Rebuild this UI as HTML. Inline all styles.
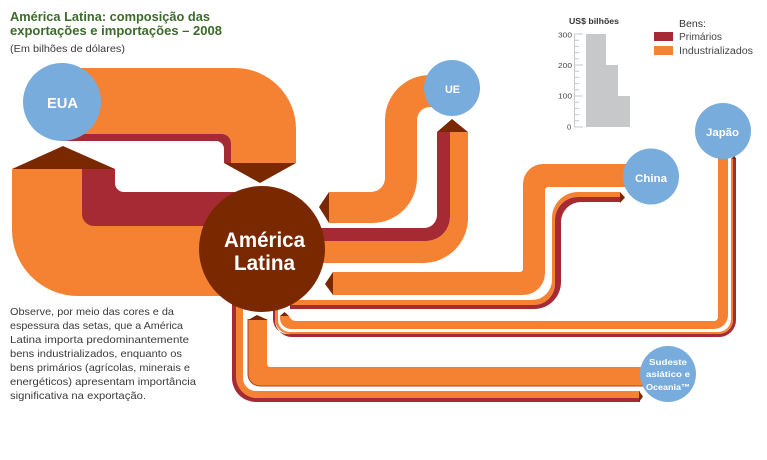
<!DOCTYPE html>
<html><head><meta charset="utf-8"><style>
html,body{margin:0;padding:0;background:#fff}
svg{display:block}
text{font-family:"Liberation Sans",sans-serif}
.t{font-weight:bold;font-size:12.5px;fill:#3c6b2a}
.p{font-size:10.5px;fill:#3a3a3a}
.w{font-weight:bold;fill:#fff;text-anchor:start}
.c{font-size:7.5px;fill:#444}
</style></head><body>
<svg width="767" height="460" viewBox="0 0 767 460" xmlns="http://www.w3.org/2000/svg">
<rect width="767" height="460" fill="#fff"/>
<text class="t" x="10" y="21" textLength="200" lengthAdjust="spacingAndGlyphs">América Latina: composição das</text>
<text class="t" x="10" y="35" textLength="212" lengthAdjust="spacingAndGlyphs">exportações e importações – 2008</text>
<text class="p" x="10" y="52" textLength="115" lengthAdjust="spacingAndGlyphs">(Em bilhões de dólares)</text>

<!-- EUA to AL -->
<path d="M62 134H222A9 9 0 0 1 231 143V163H224V149A8 8 0 0 0 216 141H62Z" fill="#a52a33"/>
<path d="M62 68H235A61 61 0 0 1 296 129V163H231V143A9 9 0 0 0 222 134H62Z" fill="#f58233"/>
<path d="M224 163H296L260 183Z" fill="#7a2800"/>

<!-- AL to EUA -->
<path d="M12 169H90V215H262V296H78A66 66 0 0 1 12 230Z" fill="#f58233"/>
<path d="M82 169H115V183A9 9 0 0 0 124 192H262V226H94A12 12 0 0 1 82 214Z" fill="#a52a33"/>
<path d="M12 169H115L63 146Z" fill="#7a2800"/>

<!-- UE -->
<path d="M430 75A45 45 0 0 0 385 120V178A14 14 0 0 1 371 192H329V223H372A45 45 0 0 0 417 178V120A13 13 0 0 1 430 107H445V75Z" fill="#f58233"/>
<path d="M329 192L319 207L329 223Z" fill="#7a2800"/>
<path d="M437 132V215A13 13 0 0 1 424 228H300V241H426A24 24 0 0 0 450 217V132Z" fill="#a52a33"/>
<path d="M450 132H468V218A45 45 0 0 1 423 263H300V241H426A24 24 0 0 0 450 217Z" fill="#f58233"/>
<path d="M437 132H468L452 119Z" fill="#7a2800"/>

<!-- China -->
<path d="M640 164H543A20 20 0 0 0 523 184V269A3 3 0 0 1 520 272H333V295H523A22 22 0 0 0 545 273V190A3 3 0 0 1 548 187H640Z" fill="#f58233"/>
<path d="M333 272L325 284L333 295Z" fill="#7a2800"/>
<path d="M620 192H578A26 26 0 0 0 552 218V280A20 20 0 0 1 532 300H290V305H534A21 21 0 0 0 555 284V220A23 23 0 0 1 578 197H620Z" fill="#f58233"/>
<path d="M620 197H578A23 23 0 0 0 555 220V284A21 21 0 0 1 534 305H290V309H534A27 27 0 0 0 561 282V222A20 20 0 0 1 581 202H620Z" fill="#a52a33"/>
<path d="M620 192L625 197.500L620 203Z" fill="#7a2800"/>

<!-- Japao -->
<path d="M718 150V317A4 4 0 0 1 714 321H296A7 7 0 0 1 289 314V316H280V318A11 11 0 0 0 291 329H714A14 14 0 0 0 728 315V150Z" fill="#f58233"/>
<path d="M280 316H289L284.500 312Z" fill="#7a2800"/>
<path d="M278 305V320A12 12 0 0 0 290 332H718A13 13 0 0 0 731 319V158H733V320A14 14 0 0 1 719 334H290A15 15 0 0 1 275 319V305Z" fill="#f58233"/>
<path d="M275 305V320A17 17 0 0 0 292 337H719A17 17 0 0 0 736 320V158H733V320A14 14 0 0 1 719 334H290A15 15 0 0 1 273 319V305Z" fill="#a52a33"/>
<path d="M732 159H736L734 154Z" fill="#7a2800"/>

<!-- Sudeste -->
<path d="M248 319V374A12 12 0 0 0 260 386H650V367H270A3 3 0 0 1 267 364V319Z" fill="#f58233"/>
<path d="M248 319V374A12 12 0 0 0 260 386H650" fill="none" stroke="#a8402f" stroke-width="1"/>
<path d="M248 320H268L257 315Z" fill="#7a2800"/>
<path d="M232 300H237V378A20 20 0 0 0 257 398H640V402H256A24 24 0 0 1 232 378Z" fill="#a52a33"/>
<path d="M236 300H243V378A13 13 0 0 0 256 391H640V398H257A21 21 0 0 1 236 377Z" fill="#f58233"/>
<path d="M639 391L643 396.500L639 402Z" fill="#7a2800"/>

<!-- Circles -->
<circle cx="62" cy="102" r="39" fill="#78acdc"/>
<circle cx="262" cy="249" r="63" fill="#7a2800"/>
<circle cx="452" cy="88" r="28" fill="#78acdc"/>
<circle cx="651" cy="176.500" r="28" fill="#78acdc"/>
<circle cx="723" cy="131" r="28" fill="#78acdc"/>
<circle cx="668" cy="374" r="28" fill="#78acdc"/>

<text class="w" x="47" y="108" font-size="15" textLength="31" lengthAdjust="spacingAndGlyphs">EUA</text>
<text class="w" x="224" y="247" font-size="21" textLength="81" lengthAdjust="spacingAndGlyphs">América</text>
<text class="w" x="234" y="270" font-size="21" textLength="61" lengthAdjust="spacingAndGlyphs">Latina</text>
<text class="w" x="445" y="93" font-size="11" textLength="15" lengthAdjust="spacingAndGlyphs">UE</text>
<text class="w" x="635" y="182" font-size="11" textLength="32" lengthAdjust="spacingAndGlyphs">China</text>
<text class="w" x="706" y="136" font-size="11" textLength="33" lengthAdjust="spacingAndGlyphs">Japão</text>
<text class="w" x="649" y="365" font-size="8.500" textLength="38" lengthAdjust="spacingAndGlyphs">Sudeste</text>
<text class="w" x="646" y="377" font-size="8.500" textLength="44" lengthAdjust="spacingAndGlyphs">asiático e</text>
<text class="w" x="646" y="390" font-size="8.500" textLength="44" lengthAdjust="spacingAndGlyphs">Oceania™</text>

<!-- Paragraph -->
<text class="p" x="10" y="315" textLength="164" lengthAdjust="spacingAndGlyphs">Observe, por meio das cores e da</text>
<text class="p" x="10" y="329" textLength="173" lengthAdjust="spacingAndGlyphs">espessura das setas, que a América</text>
<text class="p" x="10" y="343" textLength="179" lengthAdjust="spacingAndGlyphs">Latina importa predominantemente</text>
<text class="p" x="10" y="357" textLength="172" lengthAdjust="spacingAndGlyphs">bens industrializados, enquanto os</text>
<text class="p" x="10" y="371" textLength="180" lengthAdjust="spacingAndGlyphs">bens primários (agrícolas, minerais e</text>
<text class="p" x="10" y="385" textLength="186" lengthAdjust="spacingAndGlyphs">energéticos) apresentam importância</text>
<text class="p" x="10" y="399" textLength="136" lengthAdjust="spacingAndGlyphs">significativa na exportação.</text>

<!-- Chart -->
<text x="569" y="24" font-size="8" font-weight="bold" fill="#333" textLength="50" lengthAdjust="spacingAndGlyphs">US$ bilhões</text>
<rect x="586" y="34" width="20" height="93" fill="#c7c8ca"/>
<rect x="606" y="65" width="12" height="62" fill="#c7c8ca"/>
<rect x="618" y="96" width="12" height="31" fill="#c7c8ca"/>
<path d="M574.500 34V127M574 34H583M574 65H583M574 96H583M574 127H583M574 40.200H579M574 46.400H579M574 52.600H579M574 58.800H579M574 71.200H579M574 77.400H579M574 83.600H579M574 89.800H579M574 102.200H579M574 108.400H579M574 114.600H579M574 120.800H579" stroke="#c9c9c9" stroke-width="1" fill="none"/>
<text class="c" x="558" y="37.500" textLength="14" lengthAdjust="spacingAndGlyphs">300</text>
<text class="c" x="558" y="68" textLength="14" lengthAdjust="spacingAndGlyphs">200</text>
<text class="c" x="558" y="98.500" textLength="14" lengthAdjust="spacingAndGlyphs">100</text>
<text class="c" x="567" y="129.500">0</text>

<!-- Legend -->
<text x="679" y="27" font-size="10" fill="#333" textLength="27" lengthAdjust="spacingAndGlyphs">Bens:</text>
<rect x="654" y="32" width="19" height="9" fill="#a52a33"/>
<text x="679" y="40" font-size="10" fill="#444" textLength="43" lengthAdjust="spacingAndGlyphs">Primários</text>
<rect x="654" y="46" width="19" height="9" fill="#f58233"/>
<text x="679" y="54" font-size="10" fill="#444" textLength="74" lengthAdjust="spacingAndGlyphs">Industrializados</text>
</svg>
</body></html>
